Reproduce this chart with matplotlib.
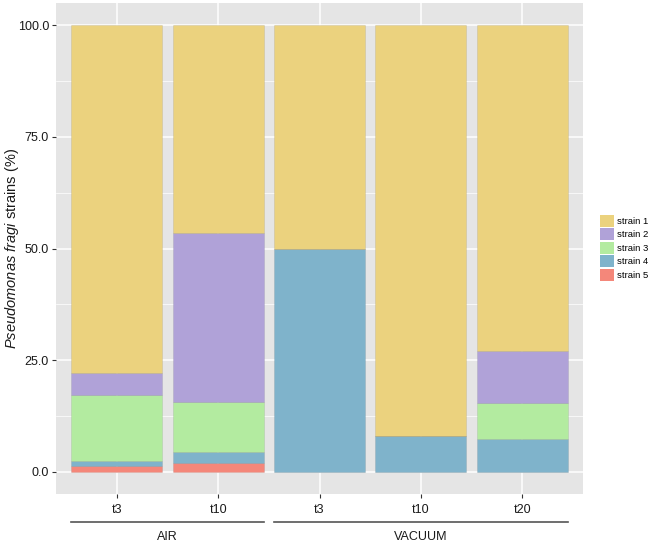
import matplotlib
matplotlib.use("Agg")
import matplotlib.pyplot as plt
from matplotlib.patches import Patch
import numpy as np

plt.rcParams['font.family'] = ['Liberation Sans', 'DejaVu Sans']
plt.rcParams['mathtext.fontset'] = 'custom'
plt.rcParams['mathtext.it'] = 'Liberation Sans:italic'
plt.rcParams['mathtext.rm'] = 'Liberation Sans'

# data (percent of strains)
samples = ["t3", "t10", "t3", "t10", "t20"]
groups = ["AIR", "VACUUM"]
group_members = [[0, 1], [2, 3, 4]]
strains = ["strain 1", "strain 2", "strain 3", "strain 4", "strain 5"]
strain5 = [1.3, 2.0, 0.0, 0.0, 0.0]
strain4 = [1.1, 2.5, 50.0, 8.0, 7.4]
strain3 = [14.7, 11.1, 0.0, 0.0, 7.9]
strain2 = [4.9, 37.8, 0.0, 0.0, 11.8]
strain1 = [78.0, 46.6, 50.0, 92.0, 72.9]
colors = ["#ebd27e", "#b0a2d8", "#b3eba0", "#7fb3cb", "#f4877a"]

W, H = 650, 544
fig = plt.figure(figsize=(W / 100, H / 100), dpi=100)
ax = fig.add_axes([56 / W, (H - 494) / H, (583 - 56) / W, (494 - 3) / H])
ax.set_facecolor("#e5e5e5")

x = np.arange(1, len(samples) + 1)
# stack from the bottom: strain 5 first, strain 1 on top
stack = [strain5, strain4, strain3, strain2, strain1]
stack_cols = colors[::-1]
bottom = np.zeros(len(samples))
for vals, c in zip(stack, stack_cols):
    vals = np.array(vals)
    ax.bar(x, vals, 0.9, bottom=bottom, color=c, edgecolor=(0, 0, 0, 0.12),
           linewidth=0.4, zorder=3)
    bottom += vals

ax.set_xlim(0.4, len(samples) + 0.6)
ax.set_ylim(-5, 105)
ax.set_xticks(x)
ax.set_xticklabels(samples)
yt = [0, 25, 50, 75, 100]
ax.set_yticks(yt)
ax.set_yticklabels(["%.1f" % v for v in yt])
ax.set_yticks([12.5, 37.5, 62.5, 87.5], minor=True)
ax.grid(which="major", color="white", linewidth=1.1, zorder=0)
ax.grid(which="minor", axis="y", color="white", linewidth=0.5, zorder=0)
ax.tick_params(which="major", length=3, width=0.8, color="#333333",
               labelsize=9, labelcolor="#1a1a1a", pad=2)
ax.tick_params(which="minor", length=0)
ax.tick_params(axis="x", pad=4)
for s in ax.spines.values():
    s.set_visible(False)

ax.set_ylabel(r"$\it{Pseudomonas\ fragi}$ strains (%)", fontsize=10.5,
              color="#1a1a1a")
ax.yaxis.set_label_coords(-0.066, 0.5)

# group lines under the x axis
trans = ax.get_xaxis_transform()
for name, members in zip(groups, group_members):
    x0 = x[members[0]] - 0.45
    x1 = x[members[-1]] + 0.45
    ax.plot([x0, x1], [-0.057, -0.057], color="#555555", lw=1.2,
            transform=trans, clip_on=False)
    ax.text((x0 + x1) / 2, -0.087, name, transform=trans, ha="center",
            va="center", fontsize=9, color="#1a1a1a")

handles = [Patch(facecolor=c, edgecolor="none", label=s)
           for c, s in zip(colors, strains)]
fig.legend(handles=handles, loc="upper left",
           bbox_to_anchor=(593 / W, 1 - 208 / H), frameon=False,
           fontsize=6.8, handlelength=1.5, handleheight=1.6,
           handletextpad=0.3, labelspacing=0.15, borderpad=0.2)

fig.savefig("out.png", dpi=100)
